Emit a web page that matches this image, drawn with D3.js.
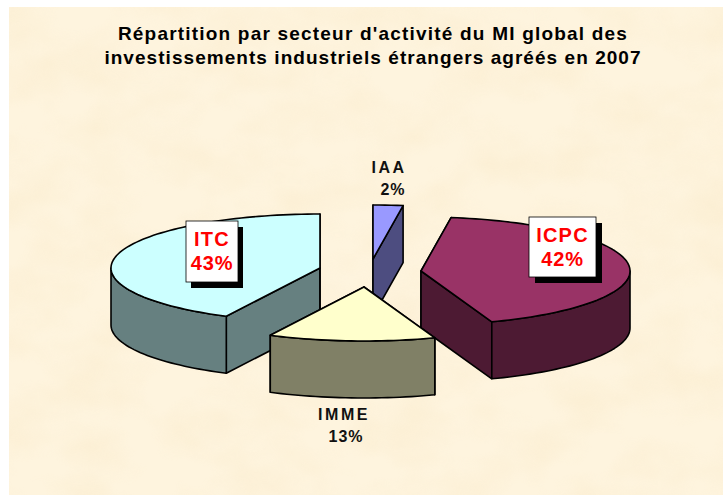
<!DOCTYPE html>
<html><head><meta charset="utf-8">
<script src="https://cdn.jsdelivr.net/npm/d3@7/dist/d3.min.js"></script>
<style>html,body{margin:0;padding:0;background:#fff}svg{display:block}text{font-family:"Liberation Sans",Arial,sans-serif;font-weight:bold}</style>
</head><body><svg id="c" width="723" height="495"></svg>
<script>
const categories = ["IAA","ICPC","IMME","ITC"];
const shares = [2.3,42.2,12.9,42.6];
const shareLabels = ["2%","42%","13%","43%"];
const topColors = ["#9999FF","#993366","#FFFFCC","#CCFFFF"];
const sideColors = ["#4D4D80","#4D1A33","#808066","#668080"];
const titleLines = ["Répartition par secteur d'activité du MI global des","investissements industriels étrangers agréés en 2007"];

const svg = d3.select("#c");
const defs = svg.append("defs");
const f = defs.append("filter").attr("id","paper").attr("x",0).attr("y",0).attr("width",1).attr("height",1);
f.append("feTurbulence").attr("type","fractalNoise").attr("baseFrequency","0.016 0.022").attr("numOctaves",3).attr("seed",11);
f.append("feColorMatrix").attr("type","matrix").attr("values","0 0 0 0 0.96  0 0 0 0 0.84  0 0 0 0 0.62  1.8 0 0 0 -0.62");
svg.append("rect").attr("x",9).attr("y",7).attr("width",714).attr("height",488).attr("fill","#FEF4DE");
svg.append("rect").attr("x",9).attr("y",7).attr("width",714).attr("height",488).attr("filter","url(#paper)").attr("opacity",0.6);

// Pie angles: clockwise from north, in the order of the arrays
const pie = d3.pie().value(d=>d).sort(null)(shares);
const rx = 209, ry = 54, depth = 57;
const sx = d3.scaleLinear().domain([-1,1]).range([-rx,rx]);
const sy = d3.scaleLinear().domain([-1,1]).range([-ry,ry]);
// exploded slice apex positions
const apex = [[373,259],[421,271],[364,287],[320,268]];
const pt = (i,a,dz=0)=>[apex[i][0]+sx(Math.sin(a)), apex[i][1]-sy(Math.cos(a))+dz];
const arcPts = (i,a0,a1,dz=0)=>{
  const n = Math.max(2,Math.ceil((a1-a0)/0.03));
  return d3.range(n+1).map(k=>pt(i,a0+(a1-a0)*k/n,dz));
};
const line = d3.line();
const face = (pts,fill)=>svg.append("path").attr("d",line(pts)+"Z").attr("fill",fill)
  .attr("stroke","#000").attr("stroke-width",1.6).attr("stroke-linejoin","round");
function slice(i){
  const s = pie[i], a0=s.startAngle, a1=s.endAngle, c=sideColors[i];
  const base = apex[i];
  [a0,a1].forEach(a=>{
    const p = pt(i,a);
    face([base,p,[p[0],p[1]+depth],[base[0],base[1]+depth]],c);
  });
  const v0 = Math.max(a0,Math.PI/2), v1 = Math.min(a1,3*Math.PI/2);
  if(v1>v0){
    const up = arcPts(i,v0,v1), dn = arcPts(i,v0,v1,depth).reverse();
    face(up.concat(dn),c);
  }
  face([base].concat(arcPts(i,a0,a1)),topColors[i]);
}
[3,0,1,2].forEach(slice);

// title
svg.append("g").selectAll("text").data(titleLines).join("text")
  .attr("x",373).attr("y",(d,i)=>39.5+i*24.5).attr("text-anchor","middle")
  .attr("font-size",19).attr("letter-spacing",(d,i)=>i?1.05:1.2).attr("fill","#000").text(d=>d);

// plain labels
const plain = [[0,389,173,393,195],[2,344,420,346,442]];
plain.forEach(([i,x,y,x2,y2])=>{
  svg.append("text").attr("x",x).attr("y",y).attr("text-anchor","middle").attr("font-size",16).attr("letter-spacing",2.5).attr("fill","#111").text(categories[i]);
  svg.append("text").attr("x",x2).attr("y",y2).attr("text-anchor","middle").attr("font-size",16).attr("letter-spacing",1).attr("fill","#111").text(shareLabels[i]);
});
// boxed labels
[[3,186,221,52,61,5,6],[1,529,217,67,60,6,6]].forEach(([i,x,y,w,h,dx,dy])=>{
  svg.append("rect").attr("x",x+dx).attr("y",y+dy).attr("width",w).attr("height",h).attr("fill","#000");
  svg.append("rect").attr("x",x).attr("y",y).attr("width",w).attr("height",h).attr("fill","#fff").attr("stroke","#000").attr("stroke-width",0.8);
  const t = svg.append("text").attr("text-anchor","middle").attr("font-size",20).attr("fill","#FF0000");
  t.append("tspan").attr("x",x+w/2).attr("y",y+25).attr("letter-spacing",1.2).text(categories[i]);
  t.append("tspan").attr("x",x+w/2).attr("y",y+49).attr("letter-spacing",0.8).text(shareLabels[i]);
});
</script></body></html>
